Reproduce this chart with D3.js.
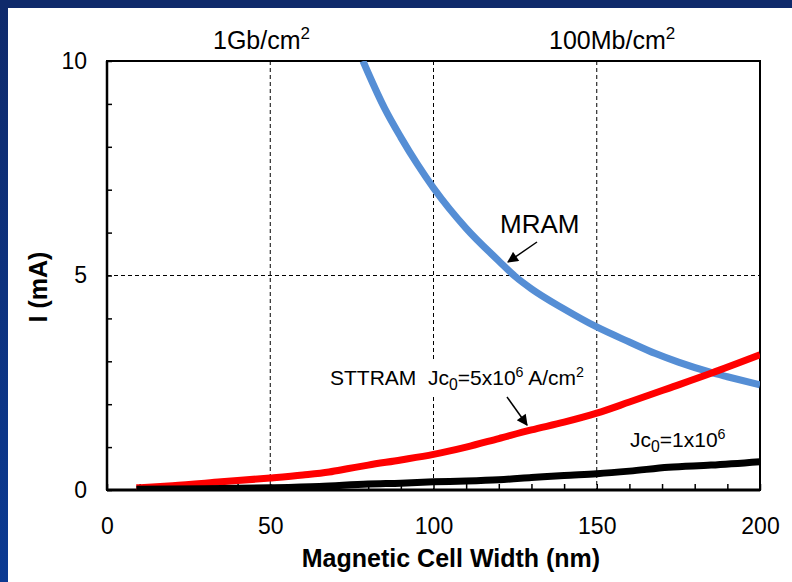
<!DOCTYPE html>
<html>
<head>
<meta charset="utf-8">
<script src="https://cdn.jsdelivr.net/npm/d3@7"></script>
<style>
  body { margin: 0; background: #ffffff; }
  text { font-family: "Liberation Sans", Arial, sans-serif; fill: #000; white-space: pre; }
</style>
</head>
<body>
<div id="chart"></div>
<script>
// cell width (nm) and current (mA)
var mramWidth = [78.4, 80, 85, 90, 95, 100, 110, 120, 125, 130, 140, 150, 160, 168, 175, 185, 190, 200];
var mramCurrent = [10, 9.72, 8.9, 8.22, 7.6, 7.04, 6.1, 5.34, 4.98, 4.69, 4.22, 3.8, 3.45, 3.18, 2.98, 2.74, 2.64, 2.45];

var sttWidth = [9, 20, 35, 50, 60, 68, 74, 80, 90, 100, 110, 120, 130, 140, 150, 160, 172, 185, 200];
var sttCurrent = [0.05, 0.1, 0.19, 0.28, 0.35, 0.42, 0.5, 0.58, 0.7, 0.83, 1.0, 1.2, 1.4, 1.58, 1.79, 2.05, 2.37, 2.72, 3.15];

var stt1Width = [9, 30, 50, 65, 80, 90, 100, 110, 120, 130, 140, 150, 160, 172, 185, 200];
var stt1Current = [0.02, 0.03, 0.05, 0.08, 0.14, 0.16, 0.19, 0.21, 0.24, 0.29, 0.34, 0.38, 0.44, 0.53, 0.58, 0.66];

var xTicks = [0, 10, 20, 30, 40, 50, 60, 70, 80, 90, 100, 110, 120, 130, 140, 150, 160, 170, 180, 190, 200];
var xTickLabels = [0, 50, 100, 150, 200];
var yTicks = [0, 1, 2, 3, 4, 5, 6, 7, 8, 9, 10];
var yTickLabels = [0, 5, 10];
var xGrid = [50, 100, 150];
var yGrid = [5];

var svgWidth = 792;
var svgHeight = 582;

var chartMargin = { top: 61, right: 32, bottom: 92, left: 107 };
var chartWidth = svgWidth - chartMargin.left - chartMargin.right;
var chartHeight = svgHeight - chartMargin.top - chartMargin.bottom;

var svg = d3.select("#chart")
  .append("svg")
  .attr("width", svgWidth)
  .attr("height", svgHeight);

// slide frame: white page, navy strips top and left
svg.append("rect").attr("width", svgWidth).attr("height", svgHeight).attr("fill", "#ffffff");
var defs = svg.append("defs");
var grad = defs.append("linearGradient")
  .attr("id", "edge").attr("x1", 0).attr("y1", 0).attr("x2", 0).attr("y2", 1);
grad.append("stop").attr("offset", "0%").attr("stop-color", "#0f2a6b");
grad.append("stop").attr("offset", "100%").attr("stop-color", "#0b3a92");
svg.append("rect").attr("x", 0).attr("y", 0).attr("width", 8).attr("height", svgHeight).attr("fill", "url(#edge)");
svg.append("rect").attr("x", 0).attr("y", 0).attr("width", svgWidth).attr("height", 8).attr("fill", "#0f2a6b");

var chartGroup = svg.append("g")
  .attr("transform", `translate(${chartMargin.left}, ${chartMargin.top})`);

var xScale = d3.scaleLinear().domain([0, 200]).range([0, chartWidth]);
var yScale = d3.scaleLinear().domain([0, 10]).range([chartHeight, 0]);

// dashed grid
chartGroup.selectAll(".xgrid")
  .data(xGrid)
  .enter()
  .append("line")
  .attr("x1", d => xScale(d)).attr("x2", d => xScale(d))
  .attr("y1", 0).attr("y2", chartHeight)
  .attr("stroke", "#000").attr("stroke-width", 1).attr("stroke-dasharray", "4,3");

chartGroup.selectAll(".ygrid")
  .data(yGrid)
  .enter()
  .append("line")
  .attr("x1", 0).attr("x2", chartWidth)
  .attr("y1", d => yScale(d)).attr("y2", d => yScale(d))
  .attr("stroke", "#000").attr("stroke-width", 1).attr("stroke-dasharray", "4,3");

// axes with inward ticks
var bottomAxis = d3.axisBottom(xScale)
  .tickValues(xTicks)
  .tickSizeInner(-6).tickSizeOuter(0).tickPadding(28)
  .tickFormat(d => xTickLabels.includes(d) ? d : "");
var leftAxis = d3.axisLeft(yScale)
  .tickValues(yTicks)
  .tickSizeInner(-5).tickSizeOuter(0).tickPadding(20)
  .tickFormat(d => yTickLabels.includes(d) ? d : "");

var xAxisG = chartGroup.append("g")
  .attr("transform", `translate(0, ${chartHeight})`)
  .call(bottomAxis);
var yAxisG = chartGroup.append("g").call(leftAxis);

[xAxisG, yAxisG].forEach(function(g) {
  g.select(".domain").remove();
  g.selectAll("line").attr("stroke", "#000").attr("stroke-width", 1.5);
  g.selectAll("text").style("font-family", "Liberation Sans, Arial, sans-serif").style("font-size", "23px").attr("fill", "#000");
});

// plot frame
chartGroup.append("rect")
  .attr("width", chartWidth).attr("height", chartHeight)
  .attr("fill", "none").attr("stroke", "#000").attr("stroke-width", 2);
chartGroup.append("line")
  .attr("x1", 0).attr("x2", 0).attr("y1", 0).attr("y2", chartHeight)
  .attr("stroke", "#000").attr("stroke-width", 2.5);
chartGroup.append("line")
  .attr("x1", 0).attr("x2", chartWidth).attr("y1", chartHeight).attr("y2", chartHeight)
  .attr("stroke", "#000").attr("stroke-width", 3);

// curves
chartGroup.append("clipPath").attr("id", "plotClip")
  .append("rect").attr("width", chartWidth).attr("height", chartHeight);

function toPoints(xs, ys) {
  var arr = [];
  for (let i in xs) {
    arr.push({ w: xs[i], I: ys[i] });
  }
  return arr;
}

var line = d3.line()
  .x(d => xScale(d.w))
  .y(d => yScale(d.I))
  .curve(d3.curveMonotoneX);

var series = [
  { pts: toPoints(mramWidth, mramCurrent), color: "#558ed5" },
  { pts: toPoints(sttWidth, sttCurrent), color: "#ff0000" },
  { pts: toPoints(stt1Width, stt1Current), color: "#000000" }
];

chartGroup.append("g").attr("clip-path", "url(#plotClip)")
  .selectAll("path")
  .data(series)
  .enter()
  .append("path")
  .attr("d", d => line(d.pts))
  .attr("fill", "none")
  .attr("stroke", d => d.color)
  .attr("stroke-width", 7);

// text with sub/superscripts
function supText(g, x, y, size, parts) {
  var t = g.append("text").attr("x", x).attr("y", y).style("font-size", size + "px");
  parts.forEach(function(p) {
    var ts = t.append("tspan").text(p.t);
    if (p.sup) ts.style("font-size", (size * 0.68) + "px").attr("dy", -size * 0.4);
    if (p.sub) ts.style("font-size", (size * 0.75) + "px").attr("dy", size * 0.22);
    if (p.back) ts.attr("dy", p.back);
  });
  return t;
}

supText(svg, 213, 49, 25, [{ t: "1Gb/cm" }, { t: "2", sup: true }]);
supText(svg, 549, 49, 25, [{ t: "100Mb/cm" }, { t: "2", sup: true }]);

// annotations
defs.append("marker")
  .attr("id", "arrow").attr("viewBox", "0 0 10 10")
  .attr("refX", 9).attr("refY", 5)
  .attr("markerUnits", "userSpaceOnUse")
  .attr("markerWidth", 13).attr("markerHeight", 11)
  .attr("orient", "auto")
  .append("path").attr("d", "M0,0 L10,5 L0,10 z").attr("fill", "#000");

var sttLabel = supText(svg, 330, 385, 21, [
  { t: "STTRAM  Jc" }, { t: "0", sub: true }, { t: "=5x10", back: -21 * 0.22 },
  { t: "6", sup: true }, { t: " A/cm", back: 21 * 0.4 }, { t: "2", sup: true }
]);
var bb = sttLabel.node().getBBox();
svg.insert("rect", function() { return sttLabel.node(); })
  .attr("x", bb.x - 2).attr("y", bb.y - 2)
  .attr("width", bb.width + 4).attr("height", bb.height + 6)
  .attr("fill", "#ffffff");

supText(svg, 630, 447, 21, [
  { t: "Jc" }, { t: "0", sub: true }, { t: "=1x10", back: -21 * 0.22 }, { t: "6", sup: true }
]);

svg.append("text").attr("x", 500).attr("y", 233).style("font-size", "26px").text("MRAM");

svg.append("line")
  .attr("x1", 537).attr("y1", 242).attr("x2", 508).attr("y2", 262)
  .attr("stroke", "#000").attr("stroke-width", 1.5).attr("marker-end", "url(#arrow)");
svg.append("line")
  .attr("x1", 507).attr("y1", 397).attr("x2", 527).attr("y2", 425)
  .attr("stroke", "#000").attr("stroke-width", 1.5).attr("marker-end", "url(#arrow)");

// axis titles
svg.append("text")
  .attr("x", 451).attr("y", 567)
  .attr("text-anchor", "middle")
  .style("font-size", "25px").style("font-weight", "bold")
  .text("Magnetic Cell Width (nm)");

svg.append("text")
  .attr("transform", "translate(47, 287) rotate(-90)")
  .attr("text-anchor", "middle")
  .style("font-size", "25px").style("font-weight", "bold")
  .text("I (mA)");
</script>
</body>
</html>
